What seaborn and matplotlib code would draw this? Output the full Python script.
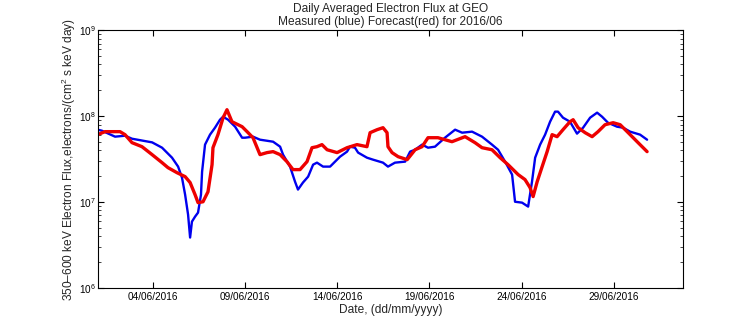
import numpy as np
import pandas as pd
import matplotlib
matplotlib.use("Agg")
import matplotlib.pyplot as plt
import matplotlib.dates as mdates
from matplotlib.ticker import LogLocator, NullFormatter
import seaborn as sns

# ---- data (day of June 2016, fractional; flux in electrons/(cm^2 s keV day)) ----
blue_days = [1.0, 1.24, 1.95, 2.49, 2.87, 3.96, 4.50, 5.04, 5.37, 5.58, 5.75, 5.91,
             6.02, 6.12, 6.29, 6.45, 6.61, 6.67, 6.83, 7.10, 7.37, 7.64, 7.81, 8.08,
             8.46, 8.84, 9.00, 9.43, 9.81, 10.52, 10.90, 11.06, 11.44, 11.71, 11.87,
             12.14, 12.42, 12.69, 12.90, 13.23, 13.61, 13.88, 14.15, 14.53, 14.69,
             14.96, 15.13, 15.61, 15.94, 16.48, 16.75, 17.13, 17.68, 17.95, 18.22,
             18.60, 18.92, 19.30, 19.84, 20.39, 20.77, 21.31, 21.85, 22.39, 22.72,
             23.10, 23.48, 23.64, 24.02, 24.35, 24.56, 24.73, 25.00, 25.27, 25.54,
             25.81, 25.97, 26.24, 26.62, 27.00, 27.33, 27.71, 28.09, 28.36, 28.68,
             29.17, 29.50, 29.88, 30.42, 30.80]
blue_flux = [6.97e7, 6.78e7, 5.78e7, 5.93e7, 5.47e7, 4.96e7, 4.30e7, 3.29e7, 2.59e7,
             1.93e7, 1.22e7, 7.16e6, 3.87e6, 5.93e6, 6.78e6, 7.55e6, 1.22e7, 2.26e7,
             4.67e7, 6.10e7, 7.35e7, 9.10e7, 9.86e7, 9.10e7, 7.55e7, 5.62e7, 5.62e7,
             5.78e7, 5.33e7, 5.05e7, 4.42e7, 3.57e7, 2.59e7, 1.73e7, 1.40e7, 1.69e7,
             1.98e7, 2.73e7, 2.88e7, 2.59e7, 2.59e7, 2.96e7, 3.38e7, 3.87e7, 4.42e7,
             4.30e7, 3.77e7, 3.29e7, 3.12e7, 2.88e7, 2.59e7, 2.88e7, 2.96e7, 3.87e7,
             4.07e7, 4.67e7, 4.30e7, 4.42e7, 5.62e7, 6.97e7, 6.43e7, 6.61e7, 5.78e7,
             4.67e7, 4.07e7, 2.96e7, 2.09e7, 1.01e7, 9.86e6, 8.87e6, 1.73e7, 3.29e7,
             4.67e7, 6.10e7, 8.63e7, 1.13e8, 1.13e8, 9.61e7, 8.63e7, 6.27e7, 7.35e7,
             9.61e7, 1.10e8, 9.86e7, 8.40e7, 7.55e7, 7.35e7, 6.61e7, 6.10e7, 5.33e7]

red_days = [1.0, 1.41, 2.22, 2.49, 2.87, 3.41, 3.96, 4.50, 4.82, 5.31, 5.75, 6.02,
            6.29, 6.45, 6.72, 6.99, 7.21, 7.26, 7.53, 7.81, 8.02, 8.29, 8.84, 9.11,
            9.43, 9.81, 10.19, 10.52, 10.90, 11.27, 11.60, 11.98, 12.36, 12.63, 12.90,
            13.17, 13.45, 13.99, 14.53, 15.07, 15.61, 15.78, 16.16, 16.48, 16.70,
            16.75, 16.97, 17.30, 17.79, 18.22, 18.60, 18.92, 19.46, 20.22, 20.93,
            21.47, 21.85, 22.39, 22.83, 23.26, 23.81, 24.18, 24.45, 24.62, 24.84,
            25.11, 25.38, 25.65, 25.92, 26.24, 26.62, 26.79, 27.06, 27.44, 27.82,
            28.14, 28.52, 28.96, 29.34, 29.72, 30.26, 30.80]
red_flux = [6.10e7, 6.61e7, 6.61e7, 6.10e7, 4.92e7, 4.42e7, 3.57e7, 2.88e7, 2.52e7,
            2.20e7, 1.98e7, 1.69e7, 1.22e7, 9.86e6, 1.01e7, 1.32e7, 2.73e7, 4.30e7,
            6.10e7, 9.61e7, 1.19e8, 8.63e7, 7.55e7, 6.61e7, 5.62e7, 3.57e7, 3.77e7,
            3.87e7, 3.57e7, 2.96e7, 2.39e7, 2.39e7, 2.96e7, 4.30e7, 4.42e7, 4.67e7,
            4.07e7, 3.77e7, 4.30e7, 4.67e7, 4.42e7, 6.43e7, 6.97e7, 7.35e7, 6.43e7,
            4.42e7, 3.77e7, 3.38e7, 3.12e7, 4.07e7, 4.42e7, 5.62e7, 5.62e7, 5.05e7,
            5.78e7, 4.92e7, 4.30e7, 4.07e7, 3.29e7, 2.73e7, 2.09e7, 1.83e7, 1.48e7,
            1.16e7, 1.73e7, 2.59e7, 3.87e7, 6.10e7, 5.78e7, 6.97e7, 8.63e7, 9.10e7,
            7.35e7, 6.43e7, 5.78e7, 6.61e7, 7.96e7, 8.40e7, 7.96e7, 6.61e7, 5.05e7,
            3.87e7]

tick_dates = ["2016-06-04", "2016-06-09", "2016-06-14", "2016-06-19",
              "2016-06-24", "2016-06-29"]
y_ticks = [1e6, 1e7, 1e8, 1e9]

title_text = "Daily Averaged Electron Flux at GEO\nMeasured (blue) Forecast(red) for 2016/06"
x_label = "Date, (dd/mm/yyyy)"
y_label = "350\u2013600 keV Electron Flux,electrons/(cm$^2$ s keV day)"

# ---- build frames ----
base = pd.Timestamp("2016-06-01")
df_blue = pd.DataFrame({"t": base + pd.to_timedelta(np.array(blue_days) - 1, unit="D"),
                        "flux": blue_flux})
df_red = pd.DataFrame({"t": base + pd.to_timedelta(np.array(red_days) - 1, unit="D"),
                       "flux": red_flux})

sns.set_style("ticks")
plt.rcParams["font.family"] = ["Liberation Sans", "DejaVu Sans"]
plt.rcParams["mathtext.fontset"] = "custom"
plt.rcParams["mathtext.rm"] = "Liberation Sans"
plt.rcParams["axes.linewidth"] = 0.8

fig = plt.figure(figsize=(7.56, 3.24), dpi=100)
ax = fig.add_axes([0.129, 0.111, 0.7745, 0.7955])

sns.lineplot(data=df_blue, x="t", y="flux", ax=ax, color="#0000ee",
             linewidth=1.7, estimator=None, sort=False)
sns.lineplot(data=df_red, x="t", y="flux", ax=ax, color="#ee0000",
             linewidth=2.4, estimator=None, sort=False)

ax.set_yscale("log")
ax.set_ylim(1e6, 1e9)
ax.set_xlim(base, base + pd.Timedelta(days=31.75))
ax.set_xticks(pd.to_datetime(tick_dates))
ax.xaxis.set_major_formatter(mdates.DateFormatter("%d/%m/%Y"))
ax.set_yticks(y_ticks)
ax.yaxis.set_minor_locator(LogLocator(base=10, subs=np.arange(2, 10)))
ax.yaxis.set_minor_formatter(NullFormatter())

ax.tick_params(axis="both", which="major", direction="in", top=True, right=True,
               labelsize=7.2, length=4, width=0.8, colors="black")
ax.tick_params(axis="y", which="major", pad=1)
ax.tick_params(axis="x", which="major", pad=3)
ax.tick_params(axis="y", which="minor", direction="in", right=True, left=True,
               length=2.2, width=0.6)

for s in ax.spines.values():
    s.set_visible(True)
    s.set_color("black")
    s.set_linewidth(0.8)

ax.set_title(title_text, fontsize=8.6, pad=4, linespacing=1.05)
ax.set_xlabel(x_label, fontsize=8.6, labelpad=1)
ax.set_ylabel(y_label, fontsize=8.6, labelpad=1)

fig.savefig("out.png", dpi=100)
